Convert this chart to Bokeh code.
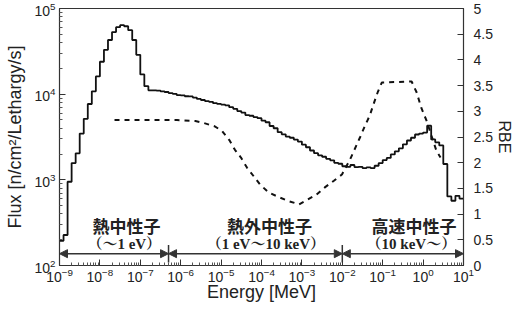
import numpy as np
from bokeh.plotting import figure
from bokeh.models import (Range1d, LinearAxis, LinearScale, FixedTicker, Arrow, NormalHead,
                          CustomJSTickFormatter, ColumnDataSource)
from bokeh.core.properties import value
from bokeh.embed import file_html
from bokeh.resources import INLINE

# ---------------- data ----------------
# neutron flux histogram, 10 log bins per decade from 1e-9 to 1e1 MeV
BIN_LOG_START = -9
BIN_LOG_STOP = 1
BINS_PER_DECADE = 10
FLUX = [
    194, 227, 950, 1570, 2040, 3470, 5160, 7680, 10800, 16100,
    23900, 32900, 42900, 53000, 60500, 63800, 62100, 55900, 42900, 28800,
    17000, 12400, 11100, 11100, 11000, 10800, 10600, 10300, 10100, 9750,
    9700, 9450, 9400, 9120, 8800, 8550, 8300, 8150, 7850, 7700,
    7550, 7400, 7050, 6750, 6350, 6100, 5700, 5600, 5400, 5250,
    4900, 4700, 4250, 4000, 3600, 3400, 3200, 3100, 2950, 2800,
    2570, 2400, 2200, 2050, 1930, 1860, 1760, 1690, 1580, 1540,
    1440, 1420, 1490, 1410, 1420, 1370, 1400, 1370, 1460, 1570,
    1700, 1800, 1980, 2150, 2330, 2600, 2880, 3100, 3380, 3470,
    3560, 4290, 2960, 2740, 2520, 1530, 640, 570, 650, 605,
]

# RBE curve (dashed)
RBE_ENERGY = [2.3e-8, 8.1e-7, 2.3e-6, 3.8e-6, 6.8e-6, 1.05e-5, 1.6e-5, 2.2e-5,
              3.1e-5, 4.4e-5, 6.5e-5, 9.1e-5, 1.5e-4, 2.7e-4, 4.8e-4, 8.5e-4,
              1.3e-3, 2.3e-3, 3.7e-3, 6.2e-3, 9.8e-3, 1.55e-2, 2.7e-2, 3.6e-2,
              4.8e-2, 6.0e-2, 7.6e-2, 9.5e-2, 0.52, 0.69, 0.91, 1.23, 1.62,
              2.14, 2.7]
RBE_VALUE = [2.83, 2.83, 2.81, 2.77, 2.71, 2.62, 2.44, 2.25,
             2.10, 1.90, 1.73, 1.58, 1.42, 1.33, 1.25, 1.19,
             1.27, 1.38, 1.52, 1.65, 1.77, 2.06, 2.48, 2.71,
             2.92, 3.15, 3.38, 3.56, 3.58, 3.37, 3.06, 2.81, 2.52,
             2.23, 2.10]

X_TICKS = [1e-9, 1e-8, 1e-7, 1e-6, 1e-5, 1e-4, 1e-3, 1e-2, 1e-1, 1e0, 1e1]
Y_TICKS = [1e2, 1e3, 1e4, 1e5]
RBE_TICKS = [0, 0.5, 1, 1.5, 2, 2.5, 3, 3.5, 4, 4.5, 5]

REGION_NAMES = ["熱中性子", "熱外中性子", "高速中性子"]
REGION_RANGES = ["（～1 eV）", "（1 eV～10 keV）", "（10 keV～）"]
REGION_BOUNDS = [1e-9, 5e-7, 1e-2, 1e1]
NAME_LEFT_X = [6.6e-9, 1.4e-5, 0.053]      # left edge of each region name
RANGE_LEFT_X = [4.9e-9, 4.4e-6, 0.040]     # left edge of each energy range

# ---------------- figure ----------------
FONT = "Liberation Sans"
p = figure(width=515, height=304, x_axis_type="log", y_axis_type="log",
           x_range=Range1d(1e-9, 1e1), y_range=Range1d(1e2, 1e5),
           output_backend="svg", toolbar_location=None,
           min_border_left=59, min_border_right=51, min_border_top=8,
           min_border_bottom=34)
p.background_fill_color = "white"
p.border_fill_color = "white"
p.outline_line_color = "#333333"
p.outline_line_width = 1.2
p.xgrid.visible = False
p.ygrid.visible = False

p.extra_y_ranges = {"rbe": Range1d(0, 5)}
p.extra_y_scales = {"rbe": LinearScale()}

def minor_log(lo, hi):
    return [m * 10.0 ** e for e in range(lo, hi) for m in range(2, 10)]

# x axis
xa = p.xaxis[0]
xa.ticker = FixedTicker(ticks=X_TICKS, minor_ticks=minor_log(-9, 1))
xa.axis_label = "Energy [MeV]"
# y axis
ya = p.yaxis[0]
ya.ticker = FixedTicker(ticks=Y_TICKS, minor_ticks=minor_log(2, 5))
ya.axis_label = "Flux [n/cm²/Lethargy/s]"

ra = LinearAxis(y_range_name="rbe", axis_label="RBE",
                ticker=FixedTicker(ticks=RBE_TICKS, minor_ticks=[]),
                formatter=CustomJSTickFormatter(code="return tick.toString();"))
p.add_layout(ra, "right")

for ax in [xa, ya, ra]:
    ax.axis_line_color = "#333333"
    ax.major_tick_in = 6
    ax.major_tick_out = 0
    ax.minor_tick_in = 3
    ax.minor_tick_out = 0
    ax.major_tick_line_color = "#333333"
    ax.minor_tick_line_color = "#555555"
    ax.major_label_text_font = FONT
    ax.major_label_text_font_size = "14px"
    ax.major_label_text_color = "#222222"
    ax.axis_label_text_font = FONT
    ax.axis_label_text_font_style = "normal"
    ax.axis_label_text_font_size = "18px"
    ax.axis_label_text_color = "#222222"
ra.minor_tick_line_color = None
ra.axis_label_text_font_size = "16px"
xa.major_label_standoff = 2
xa.axis_label_standoff = -3
ya.major_label_standoff = 4
ya.axis_label_standoff = 6
ra.major_label_standoff = 10
ra.axis_label_standoff = 0

# histogram (solid)
edges = 10.0 ** np.linspace(BIN_LOG_START, BIN_LOG_STOP,
                            (BIN_LOG_STOP - BIN_LOG_START) * BINS_PER_DECADE + 1)
sx = list(edges[:-1]) + [edges[-1]]
sy = FLUX + [FLUX[-1]]
p.step(sx, sy, mode="after", line_color="#111111", line_width=1.8)

# RBE curve (dashed)
p.line(RBE_ENERGY, RBE_VALUE, y_range_name="rbe", line_color="#111111",
       line_width=2.0, line_dash="5 5")

# region arrows
ARROW_Y = 0.23
for a, b in zip(REGION_BOUNDS[:-1], REGION_BOUNDS[1:]):
    p.add_layout(Arrow(x_start=a, x_end=b, y_start=ARROW_Y, y_end=ARROW_Y,
                       y_range_name="rbe", line_color="#333333", line_width=1.5,
                       start=NormalHead(size=8, fill_color="#333333", line_color="#333333"),
                       end=NormalHead(size=8, fill_color="#333333", line_color="#333333")))
p.segment(x0=REGION_BOUNDS[1:-1], x1=REGION_BOUNDS[1:-1], y0=[0.06] * 2,
          y1=[0.40] * 2, y_range_name="rbe", line_color="#333333", line_width=1.5)

src = ColumnDataSource(dict(xn=NAME_LEFT_X, xr=RANGE_LEFT_X, name=REGION_NAMES,
                            rng=REGION_RANGES, y1=[0.77] * 3, y2=[0.42] * 3))
p.text(x="xn", y="y1", text="name", source=src, y_range_name="rbe",
       text_font=value("Noto Sans CJK JP"), text_font_style="bold",
       text_font_size="17px", text_align="left", text_baseline="middle",
       text_color="#222222")
p.text(x="xr", y="y2", text="rng", source=src, y_range_name="rbe",
       text_font=value("'Liberation Serif', 'Noto Serif CJK JP', 'Noto Sans CJK JP'"),
       text_font_style="bold", text_font_size="15px", text_align="left",
       text_baseline="middle", text_color="#222222")

open("out.html", "w").write(file_html(p, INLINE))
